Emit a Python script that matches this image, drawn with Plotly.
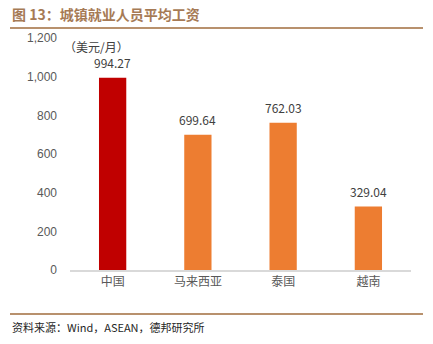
import plotly.graph_objects as go

categories = ["中国", "马来西亚", "泰国", "越南"]
values = [994.27, 699.64, 762.03, 329.04]
bar_colors = ["#C00000", "#ED7D31", "#ED7D31", "#ED7D31"]
tick_vals = [0, 200, 400, 600, 800, 1000, 1200]

fig = go.Figure()
fig.add_trace(go.Bar(
    x=categories, y=values,
    marker=dict(color=bar_colors, line=dict(width=0)),
    width=0.32,
    cliponaxis=False,
))

for c, v in zip(categories, values):
    fig.add_annotation(
        x=c, y=v, xref="x", yref="y", yanchor="middle", yshift=15,
        text=f"{v:.2f}", showarrow=False,
        font=dict(family="Noto Sans CJK SC, sans-serif", size=12, color="#404040"),
    )

fig.update_layout(
    width=433, height=344,
    margin=dict(l=70, r=22, t=38, b=74),
    paper_bgcolor="white", plot_bgcolor="white",
    showlegend=False,
    font=dict(family="Noto Sans CJK SC, sans-serif", color="#595959"),
    xaxis=dict(
        showline=True, linecolor="#D9D9D9", linewidth=1.5,
        ticks="", tickfont=dict(size=12, color="#595959"),
        showgrid=False,
    ),
    yaxis=dict(
        range=[0, 1200], tickvals=tick_vals, tickformat=",",
        showgrid=False, showline=False, zeroline=False,
        tickfont=dict(family="Arial, Liberation Sans, sans-serif", size=12, color="#595959"),
        ticklabelstandoff=12,
    ),
    bargap=0.5,
)

fig.add_annotation(
    xref="paper", yref="paper", x=0.0, y=1.0, xanchor="left", yanchor="middle",
    xshift=-8, yshift=-8,
    text="（美元/月）", showarrow=False,
    font=dict(size=12, color="#404040"),
)

# Title
fig.add_annotation(
    xref="paper", yref="paper", x=0, y=1, xanchor="left", yanchor="middle",
    xshift=-60, yshift=38 - 14,
    text="<b>图 13：城镇就业人员平均工资</b>", showarrow=False,
    font=dict(size=14, color="#A67A55"),
)
# Source
fig.add_annotation(
    xref="paper", yref="paper", x=0, y=0, xanchor="left", yanchor="middle",
    xshift=-60, yshift=-(327 - 270),
    text="资料来源：Wind，ASEAN，德邦研究所", showarrow=False,
    font=dict(size=11, color="#262626"),
)

fig.add_shape(type="line", xref="paper", yref="paper",
              x0=-60/341, x1=1 + 12/341, y0=1 + 10/232, y1=1 + 10/232,
              line=dict(color="#B8916D", width=2))
fig.add_shape(type="line", xref="paper", yref="paper",
              x0=-60/341, x1=1 + 12/341, y0=-44/232, y1=-44/232,
              line=dict(color="#B8916D", width=2))

fig.write_html("out.html")
